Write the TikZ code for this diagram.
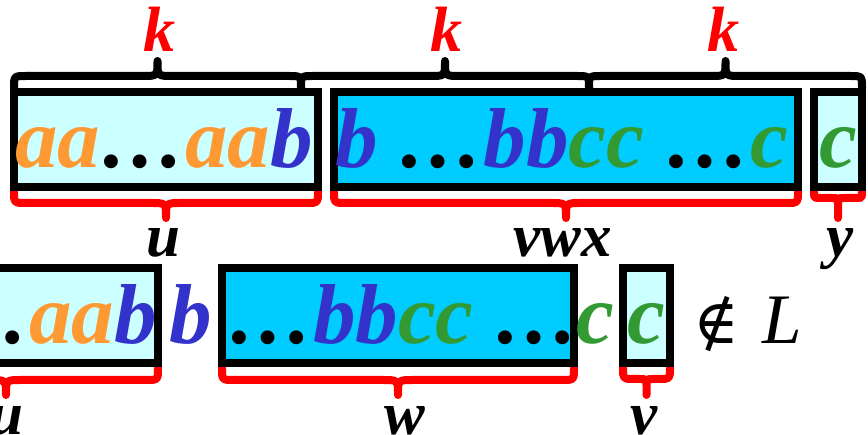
\documentclass[tikz,border=0pt]{standalone}
\usepackage{fontspec}
\setmainfont{Liberation Serif}
\newfontfamily\symfnt{DejaVu Serif}
\definecolor{orng}{HTML}{FF9933}
\definecolor{blu}{HTML}{3333CC}
\definecolor{grn}{HTML}{339933}
\definecolor{redc}{HTML}{FF0000}
\definecolor{litecyan}{HTML}{CCFFFF}
\definecolor{cyanf}{HTML}{00CCFF}
\newcommand{\bigtxt}{\fontsize{85}{90}\selectfont\bfseries\itshape}
\newcommand{\lbltxt}{\fontsize{61}{64}\selectfont\bfseries\itshape}
\newcommand{\ktxt}{\fontsize{64}{66}\selectfont\bfseries\itshape}
% #1 style, #2 x1, #3 x2, #4 y end, #5 y horizontal, #6 y tip-curve end, #7 y tip
\newcommand{\Brc}[7]{%
\draw[#1] (#2,#4) .. controls (#2,#5) .. ({#2+abs(#4-#5)},#5)
 -- ({(#2+#3)/2-abs(#5-#6)},#5) .. controls ({(#2+#3)/2},#5) .. ({(#2+#3)/2},#6)
 -- ({(#2+#3)/2},#7) -- ({(#2+#3)/2},#6)
 .. controls ({(#2+#3)/2},#5) .. ({(#2+#3)/2+abs(#5-#6)},#5)
 -- ({#3-abs(#4-#5)},#5) .. controls (#3,#5) .. (#3,#4);}
\begin{document}
\begin{tikzpicture}[x=1pt,y=-1pt,
  box/.style={draw=black,line width=8pt,inner sep=0pt,minimum height=95pt},
  lite/.style={box,fill=litecyan},
  dark/.style={box,fill=cyanf},
  txt/.style={inner sep=0pt,anchor=base},
  blk/.style={draw=black,line width=8pt,line cap=round,line join=round},
  rbr/.style={draw=redc,line width=8pt,line cap=round,line join=round}]
\useasboundingbox (0,0) rectangle (868,435);
\clip (0,0) rectangle (868,435);
% top black braces
\Brc{blk}{14}{301}{88}{76}{61}{61}
\Brc{blk}{301}{589}{88}{76}{61}{61}
\Brc{blk}{589}{862}{88}{76}{61}{61}
% red braces row 1
\Brc{rbr}{14}{318}{192}{203}{218}{218}
\Brc{rbr}{334}{798}{192}{203}{218}{218}
\Brc{rbr}{814}{862}{192}{198}{204}{218}
% red braces row 2
\Brc{rbr}{-146}{158}{368}{380}{395}{395}
\Brc{rbr}{222}{574}{368}{380}{395}{395}
\Brc{rbr}{623}{670}{368}{379}{386}{395}
% boxes row 1
\node[lite,minimum width=304pt] (b1) at (166,140) {};
\node[dark,minimum width=464pt] (b2) at (566,140) {};
\node[lite,minimum width=48pt] (b3) at (838,140) {};
% boxes row 2
\node[lite,minimum width=304pt] (bA) at (6,316) {};
\node[dark,minimum width=352pt] (bB) at (398,316) {};
\node[lite,minimum width=47pt] (bC) at (646.5,316) {};
% row 1 text
\node[txt,anchor=base west] (t1) at (15,168) {\bigtxt\textcolor{orng}{aa}…\textcolor{orng}{aa}\textcolor{blu}{b}};
\node[txt,anchor=base west] (t2) at (335,168) {\bigtxt\textcolor{blu}{b} …\textcolor{blu}{bb}\textcolor{grn}{cc} …\textcolor{grn}{c}};
\node[txt] (t3) at (838,168) {\bigtxt\textcolor{grn}{c}};
% row 2 text
\node[txt,anchor=base east] (tA) at (157,344) {\bigtxt\textcolor{orng}{aa}…\textcolor{orng}{aa}\textcolor{blu}{b}};
\node[txt] (tb) at (191,344) {\bigtxt\textcolor{blu}{b}};
\node[txt,anchor=base west] (tB) at (228,344) {\bigtxt…\textcolor{blu}{bb}\textcolor{grn}{cc} …};
\node[txt] (tc) at (595,344) {\bigtxt\textcolor{grn}{c}};
\node[txt] (tC) at (646,344) {\bigtxt\textcolor{grn}{c}};
\node[txt] (notin) at (716,344) {\fontsize{62}{64}\selectfont\symfnt ∉};
\node[txt] (L) at (782,344) {\fontsize{71}{72}\selectfont\itshape L};
% k labels
\node[txt,text=redc] (k1) at (159,52) {\ktxt k};
\node[txt,text=redc] (k2) at (446,52) {\ktxt k};
\node[txt,text=redc] (k3) at (723,52) {\ktxt k};
% labels row 1
\node[txt] (lu) at (163,257) {\lbltxt u};
\node[txt] (lvwx) at (563,257) {\lbltxt vwx};
\node[txt] (ly) at (840,257) {\lbltxt y};
% labels row 2
\node[txt] (lu2) at (6,435) {\lbltxt u};
\node[txt] (lw) at (405,435) {\lbltxt w};
\node[txt] (lv) at (644,435) {\lbltxt v};
\end{tikzpicture}
\end{document}
